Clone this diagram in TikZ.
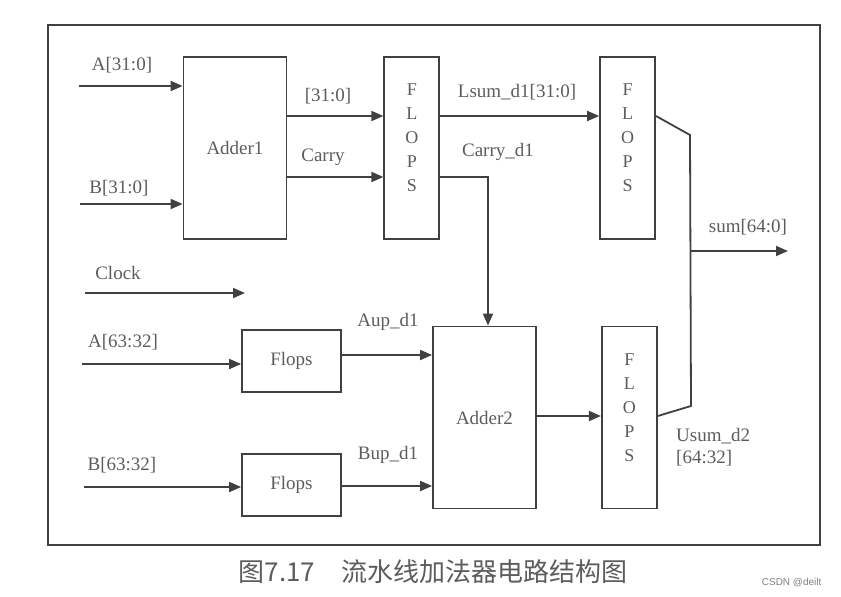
\documentclass[tikz,border=0pt]{standalone}
\usepackage{fontspec}
\setmainfont{Liberation Serif}
\newfontfamily\cjkfont{Noto Sans CJK SC}
\newfontfamily\markfont{Liberation Sans}
\usetikzlibrary{arrows.meta, positioning, calc}
\definecolor{ink}{rgb}{0.25,0.25,0.25}
\definecolor{txt}{rgb}{0.36,0.36,0.36}

\begin{document}
\begin{tikzpicture}[x=1pt, y=-1pt,
  >={Triangle[length=12pt,width=10pt]},
  blk/.style={draw=ink, line width=1.8pt, inner sep=0pt, text=txt,
    minimum width=103pt, minimum height=182pt, font=\fontsize{19}{22}\selectfont},
  flop/.style={blk, minimum width=55pt,
    label={[text=txt, align=center, inner sep=0pt, yshift=10pt,
      font=\fontsize{18}{24}\selectfont]center:F\\L\\O\\P\\S}},
  reg/.style={blk, minimum width=99pt, minimum height=62pt},
  lbl/.style={text=txt, inner sep=0pt, font=\fontsize{19}{22}\selectfont},
  wire/.style={draw=ink, line width=1.8pt}
]
\useasboundingbox (0,0) rectangle (841,597);
\draw[ink, line width=2.8pt] (48,25) rectangle (820,545);

% blocks
\node[blk] (adder1) at (235,148) {Adder1};
\node[flop, right=96pt of adder1] (flops1) {};
\node[flop, right=159pt of flops1] (flops2) {};
\node[blk] (adder2) at (484.5,417.5) {Adder2};
\node[flop, right=64pt of adder2] (flops3) {};
\node[reg] (flopa) at (291.5,361) {Flops};
\node[reg, below=60pt of flopa] (flopb) {Flops};

% free ends and rows
\coordinate (ina) at (79,86);
\coordinate (inb) at (80,204);
\coordinate (clk0) at (85,293);
\coordinate (clk1) at (245,293);
\coordinate (ina2) at (82,364);
\coordinate (inb2) at (84,487);
\coordinate (rows) at (0,116);
\coordinate (rowc) at (0,177);
\coordinate (rowa) at (0,355);
\coordinate (rowb) at (0,486);
\coordinate (rowu) at (0,416);
\coordinate (jtop) at (690,135);
\coordinate (jbot) at (691,406);
\coordinate (jmid) at (690.5,251);
\coordinate (sumout) at (788,251);

% wires
\draw[wire, ->] (ina) -- (ina -| adder1.west);
\draw[wire, ->] (inb) -- (inb -| adder1.west);
\draw[wire, ->] (clk0) -- (clk1);
\draw[wire, ->] (ina2) -- (ina2 -| flopa.west);
\draw[wire, ->] (inb2) -- (inb2 -| flopb.west);
\draw[wire, ->] (adder1.east |- rows) -- (flops1.west |- rows);
\draw[wire, ->] (adder1.east |- rowc) -- (flops1.west |- rowc);
\draw[wire, ->] (flops1.east |- rows) -- (flops2.west |- rows);
\draw[wire, ->] (flops1.east |- rowc) -| ([xshift=3.5pt]adder2.north);
\draw[wire, ->] (flopa.east |- rowa) -- (adder2.west |- rowa);
\draw[wire, ->] (flopb.east |- rowb) -- (adder2.west |- rowb);
\draw[wire, ->] (adder2.east |- rowu) -- (flops3.west |- rowu);
\draw[wire] (flops2.east |- rows) -- (jtop) -- (jbot) -- (flops3.east |- rowu);
\draw[wire, ->] (jmid) -- (sumout);

% labels
\node[lbl] (laba) at (122,65) {A[31:0]};
\node[lbl] (labb) at (119,188) {B[31:0]};
\node[lbl] (lablo) at (328,96) {[31:0]};
\node[lbl] (labcarry) at (323,157) {Carry};
\node[lbl] (lablsum) at (517,92) {Lsum\_d1[31:0]};
\node[lbl] (labcd) at (498,152) {Carry\_d1};
\node[lbl] (labsum) at (748,227) {sum[64:0]};
\node[lbl, anchor=west, align=left] (labusum) at (676,447) {Usum\_d2\\{}[64:32]};
\node[lbl] (labclk) at (118,273) {Clock};
\node[lbl] (laba2) at (123,342) {A[63:32]};
\node[lbl] (labb2) at (122,465) {B[63:32]};
\node[lbl] (labaup) at (388,322) {Aup\_d1};
\node[lbl] (labbup) at (388,455) {Bup\_d1};

% caption
\node[text=txt, font=\cjkfont\fontsize{26}{30}\selectfont] (caption) at (433,572)
  {图7.17\quad 流水线加法器电路结构图};
\node[text=gray, font=\markfont\fontsize{10}{12}\selectfont, anchor=east] (mark) at (825,583)
  {CSDN @deilt};
\end{tikzpicture}
\end{document}
